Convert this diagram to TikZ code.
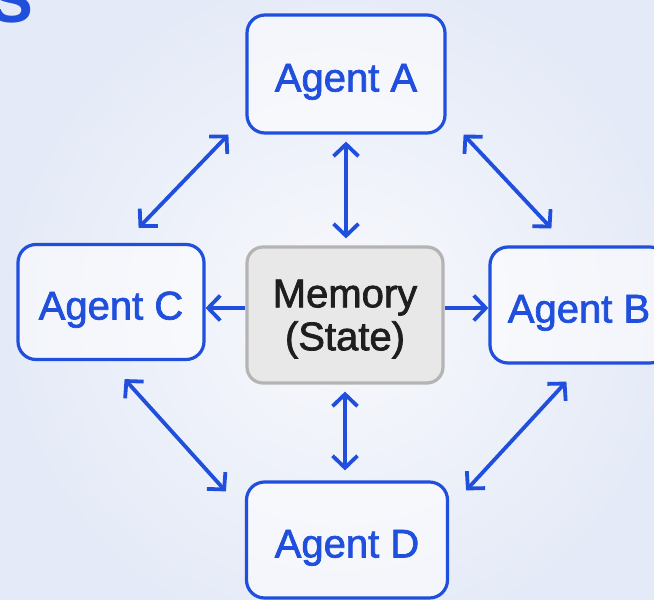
\documentclass[tikz,border=0pt]{standalone}
\usepackage{fontspec}
\setmainfont{Liberation Sans}
\newfontfamily\boxfont{Liberation Sans}[FakeBold=1.8]
\usetikzlibrary{arrows.meta}

\definecolor{agentblue}{HTML}{1F4FDC}
\definecolor{paper}{HTML}{E4EAF7}
\definecolor{glow}{HTML}{F8F9FC}
\definecolor{memfill}{HTML}{E8E8E8}
\definecolor{memline}{HTML}{B4B4B4}
\definecolor{memtext}{HTML}{1E1E1E}

\tikzset{
  agent/.style={draw=agentblue, line width=3.2pt, rounded corners=18pt, fill=white, fill opacity=0.55, text opacity=1,
    text=agentblue, font=\boxfont\fontsize{40}{42}\selectfont, inner sep=0pt, text height=35pt, text depth=0pt},
  memory/.style={draw=memline, line width=3.2pt, rounded corners=16pt, fill=memfill,
    text=memtext, font=\boxfont\fontsize{40}{43}\selectfont, align=center, inner sep=0pt, text depth=0pt},
  link/.style={draw=agentblue, line width=3.8pt, {Straight Barb[length=12pt,width=25pt]}-{Straight Barb[length=12pt,width=25pt]}},
  oneway/.style={draw=agentblue, line width=3.8pt, -{Straight Barb[length=12pt,width=25pt]}}
}

\begin{document}
\begin{tikzpicture}[x=1pt,y=-1pt]
\useasboundingbox (0,0) rectangle (654,600);
\clip (0,0) rectangle (654,600);
% backdrop
\fill [paper] (0,0) rectangle (654,600);
\shade [inner color=glow, outer color=paper] (340,310) circle (340);
\node [anchor=base, text=agentblue, font=\fontsize{64}{64}\selectfont\bfseries] (title) at (12,22) {S};

% the five boxes
\node [memory, minimum width=196pt, minimum height=136pt] (M) at (345,315) {Memory\\(State)};
\node [agent, minimum width=198pt, minimum height=118pt] (A) at (346,74) {Agent A};
\node [agent, minimum width=186pt, minimum height=115pt] (C) at (111,302) {Agent C};
\node [agent, minimum width=178pt, minimum height=116pt] (B) at (579,305) {Agent B};
\node [agent, minimum width=201pt, minimum height=116pt] (D) at (347,540) {Agent D};

% memory links
\draw [link, shorten <=7pt, shorten >=7pt] (A.south) -- (M.north -| A.south);
\draw [link, shorten <=7pt, shorten >=10pt] (M.south) -- (D.north -| M.south);
\draw [oneway] ([yshift=7pt]M.west) -- ([yshift=-6pt]C.east);
\draw [oneway] ([yshift=7pt]M.east) -- ([yshift=-3pt]B.west);

% ring between the agents
\draw [link] ([xshift=-17pt]A.south west) -- ([xshift=-67pt,yshift=15pt]C.north east);
\draw [link] ([xshift=17pt]A.south east) -- ([xshift=63pt,yshift=17pt]B.north west);
\draw [link] ([xshift=-81pt,yshift=-18pt]C.south east) -- ([xshift=-19pt,yshift=-11pt]D.north west);
\draw [link] ([xshift=78pt,yshift=-17pt]B.south west) -- ([xshift=17pt,yshift=-10pt]D.north east);
\end{tikzpicture}
\end{document}
